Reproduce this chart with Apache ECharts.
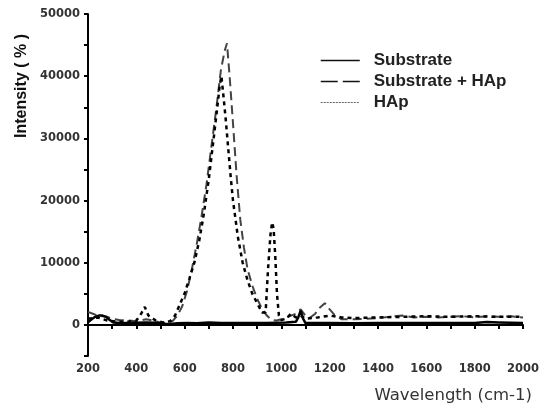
<!DOCTYPE html>
<html><head><meta charset="utf-8">
<script src="https://cdn.jsdelivr.net/npm/echarts@6/dist/echarts.min.js"></script>
<style>html,body{margin:0;padding:0;background:#fff}#c{width:542px;height:408px}</style>
</head><body><div id="c"></div>
<script>
const seriesNames = ["Substrate", "Substrate + HAp", "HAp"];
const xTickLabels = [200,400,600,800,1000,1200,1400,1600,1800,2000];
const yTickLabels = [0,10000,20000,30000,40000,50000];

const subX = [200,215,230,245,260,275,290,305,330,360,400,440,480,510,540,570,610,650,700,750,800,850,900,940,980,1020,1060,1070,1080,1090,1100,1150,1200,1300,1400,1500,1600,1700,1800,1850,1900,1950,2000];
const subY = [400,900,1300,1500,1500,1300,800,400,300,300,350,400,350,200,150,250,300,250,400,300,300,300,300,300,350,400,500,1200,2300,1000,300,300,300,250,300,300,300,300,300,450,400,350,300];

const subHapX = [200,220,240,260,280,300,330,370,400,440,470,500,530,550,570,590,610,630,650,670,690,710,730,750,765,775,786,800,815,830,845,860,880,900,920,940,960,980,1000,1020,1040,1060,1080,1100,1120,1140,1160,1180,1200,1220,1250,1300,1350,1400,1450,1500,1550,1600,1650,1700,1750,1800,1850,1900,1950,2000];
const subHapY = [2100,1800,1500,1400,1300,1000,800,700,600,900,700,400,300,600,1500,3000,5500,9000,13000,17500,22500,28500,34500,41000,44000,45300,40000,32400,24000,17000,12500,9000,6300,4200,2600,1500,800,700,900,1200,1500,1800,2500,1500,1200,1800,2800,3500,2500,1600,900,900,1000,1100,1300,1500,1200,1300,1200,1300,1400,1200,1400,1300,1400,1200];

const hapX = [200,240,280,320,360,400,420,435,450,480,510,540,560,580,600,620,640,660,680,700,720,735,745,752,760,770,780,790,800,820,840,860,880,900,920,935,945,955,962,968,975,982,990,1000,1020,1040,1060,1080,1100,1150,1200,1250,1300,1400,1500,1600,1700,1800,1900,2000];
const hapY = [1000,1200,700,500,500,700,1800,2900,1500,700,400,600,1500,3300,5100,7500,10000,13500,18000,23500,30000,35000,38500,40000,37000,33000,28500,24000,20000,14200,10000,7200,5000,3500,2000,2000,9000,14500,16500,15500,11000,5000,1500,800,1000,1800,1200,1500,1000,1200,1500,1200,1100,1200,1300,1400,1300,1400,1300,1300];

const pairs = (xs, ys) => xs.map((x, i) => [x, ys[i]]);
const chart = echarts.init(document.getElementById('c'), null, {renderer: 'canvas'});
const axisFont = {fontFamily: '"DejaVu Sans", sans-serif', fontWeight: 'bold', fontSize: 11.5, color: '#333'};
const hidden = {color: 'rgba(0,0,0,0)', borderColor: 'rgba(0,0,0,0)', borderWidth: 0, opacity: 0};
chart.setOption({
  animation: false,
  backgroundColor: '#fff',
  grid: {left: 88, right: 18, top: 14, bottom: 52},
  legend: {
    orient: 'vertical', left: 315, top: 47, itemWidth: 39, itemHeight: 14, itemGap: 4,
    itemStyle: hidden,
    data: [
      {name: seriesNames[0], itemStyle: hidden, lineStyle: {color: '#111', width: 1.5, type: 'solid'}},
      {name: seriesNames[1], itemStyle: hidden, lineStyle: {color: '#111', width: 1.5, type: [17, 5]}},
      {name: seriesNames[2], itemStyle: hidden, lineStyle: {color: '#666', width: 1, type: [2, 1]}}
    ],
    textStyle: {fontFamily: '"Liberation Sans", Arial, sans-serif', fontWeight: 'bold', fontSize: 17, color: '#222', padding: [0,0,0,9]}
  },
  xAxis: {
    type: 'value', min: 200, max: 2000, interval: 100,
    axisLine: {lineStyle: {color: '#000', width: 2}},
    axisTick: {length: 4, lineStyle: {color: '#000', width: 2}},
    splitLine: {show: false},
    axisLabel: Object.assign({margin: 7, formatter: v => xTickLabels.includes(v) ? String(v) : ''}, axisFont)
  },
  yAxis: {
    type: 'value', min: -5000, max: 50000, interval: 5000,
    axisLine: {show: true, lineStyle: {color: '#000', width: 2}},
    axisTick: {show: true, length: 4, lineStyle: {color: '#000', width: 2}},
    splitLine: {show: false},
    axisLabel: Object.assign({margin: 8, formatter: v => yTickLabels.includes(v) ? String(v) : ''}, axisFont)
  },
  graphic: [
    {type: 'text', rotation: Math.PI/2, position: [22, 86], style: {text: 'Intensity ( % )', x: 0, y: 0, fill: '#111', font: 'bold 16px "Liberation Sans", Arial, sans-serif', textAlign: 'center', textVerticalAlign: 'middle'}},
    {type: 'text', right: 10, top: 387, style: {text: 'Wavelength (cm-1)', fill: '#333', font: '16.5px "DejaVu Sans", sans-serif'}}
  ],
  series: [
    {name: seriesNames[0], type: 'line', symbol: 'none', data: pairs(subX, subY), lineStyle: {color: '#000', width: 2.5, type: 'solid'}, itemStyle: {color: '#000'}, z: 5},
    {name: seriesNames[1], type: 'line', symbol: 'none', data: pairs(subHapX, subHapY), lineStyle: {color: '#444', width: 2, type: [9, 5]}, itemStyle: {color: '#444'}, z: 2},
    {name: seriesNames[2], type: 'line', symbol: 'none', data: pairs(hapX, hapY), lineStyle: {color: '#000', width: 2.5, type: [4, 4]}, itemStyle: {color: '#000'}, z: 4}
  ]
});
</script></body></html>
